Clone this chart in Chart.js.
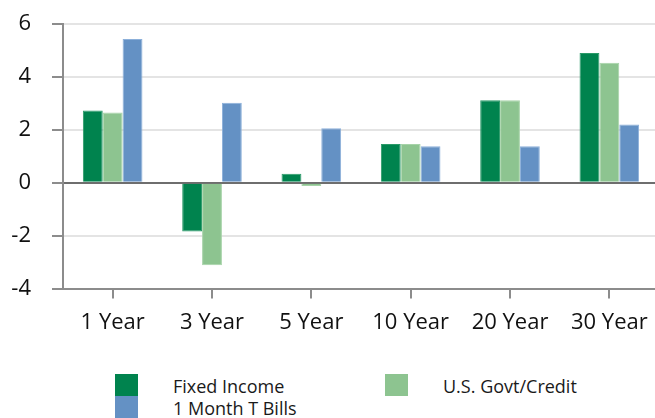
<!DOCTYPE html>
<html>
<head>
<meta charset="utf-8">
<script src="https://cdn.jsdelivr.net/npm/chart.js@4/dist/chart.umd.min.js"></script>
<style>
    html, body { margin: 0; padding: 0; background: #fff; overflow: hidden; }
    body { width: 655px; height: 418px; position: relative; font-family: "Open Sans", "Liberation Sans", sans-serif; }
    #wrap { position: absolute; left: 0; top: -10px; width: 660px; height: 357px; }
    #legend { position: absolute; left: 0; top: 374px; width: 655px; height: 44px; }
    .item { position: absolute; height: 22px; font-size: 18px; color: #1a1a1a; line-height: 22px; }
    .item .box { position: absolute; left: 0; top: 0; width: 23px; height: 22px; }
    .item .txt { position: absolute; left: 58px; top: 1px; white-space: nowrap; }
</style>
</head>
<body>
<div id="wrap"><canvas id="bondChart"></canvas></div>
<div id="legend"></div>
<script>
// categories and series
const maturities = ['1 Year', '3 Year', '5 Year', '10 Year', '20 Year', '30 Year'];
const fixedIncome = [2.74, -1.84, 0.34, 1.47, 3.12, 4.91];
const govtCredit = [2.66, -3.12, -0.12, 1.47, 3.12, 4.54];
const tBills = [5.44, 3.03, 2.06, 1.38, 1.38, 2.21];
const yTicks = [-4, -2, 0, 2, 4, 6];

const seriesNames = ['Fixed Income', 'U.S. Govt/Credit', '1 Month T Bills'];
const seriesColors = ['#00834e', '#8dc490', '#6491c4'];
const seriesEdges = ['#2a9a68', '#a6d3a8', '#8cb0da'];

const axisGray = '#8c8c8c';
const labelFont = { family: 'Open Sans', size: 22 };

const ctx = document.getElementById('bondChart').getContext('2d');

const bondChart = new Chart(ctx, {
    type: 'bar',
    data: {
        labels: maturities,
        datasets: [fixedIncome, govtCredit, tBills].map((values, i) => ({
            label: seriesNames[i],
            data: values,
            backgroundColor: seriesColors[i],
            borderColor: seriesEdges[i],
            borderWidth: 1,
            barPercentage: 1,
            categoryPercentage: 0.6
        }))
    },
    options: {
        responsive: true,
        maintainAspectRatio: false,
        animation: false,
        layout: { padding: { top: 0, left: 0, right: 1, bottom: 0 } },
        plugins: {
            legend: { display: false },
            tooltip: { enabled: false }
        },
        scales: {
            x: {
                offset: true,
                grid: {
                    offset: false,
                    drawOnChartArea: false,
                    drawTicks: true,
                    tickLength: 10,
                    tickColor: axisGray,
                    lineWidth: 2
                },
                border: { color: axisGray, width: 2 },
                ticks: {
                    color: '#111',
                    padding: 11,
                    font: labelFont
                }
            },
            y: {
                min: -4,
                max: 6,
                afterBuildTicks: scale => {
                    scale.ticks = yTicks.map(v => ({ value: v }));
                },
                afterFit: scale => {
                    scale.width = 63;
                },
                grid: {
                    color: c => c.tick && c.tick.value === 0 ? '#6e6e6e' : (c.tick && c.tick.value === -4 ? axisGray : '#e4e4e4'),
                    lineWidth: 2,
                    tickLength: 11,
                    tickColor: axisGray
                },
                border: { color: axisGray, width: 2 },
                ticks: {
                    color: '#111',
                    padding: 21,
                    font: labelFont
                }
            }
        }
    }
});

// html legend built from the chart's datasets
const legendBox = document.getElementById('legend');
const legendSpots = [[115, 0], [385, 0], [115, 22]];
bondChart.data.datasets.forEach((ds, i) => {
    const item = document.createElement('div');
    item.className = 'item';
    item.style.left = legendSpots[i][0] + 'px';
    item.style.top = legendSpots[i][1] + 'px';
    const box = document.createElement('span');
    box.className = 'box';
    box.style.background = ds.backgroundColor;
    const txt = document.createElement('span');
    txt.className = 'txt';
    txt.textContent = ds.label;
    item.appendChild(box);
    item.appendChild(txt);
    legendBox.appendChild(item);
});
</script>
</body>
</html>
